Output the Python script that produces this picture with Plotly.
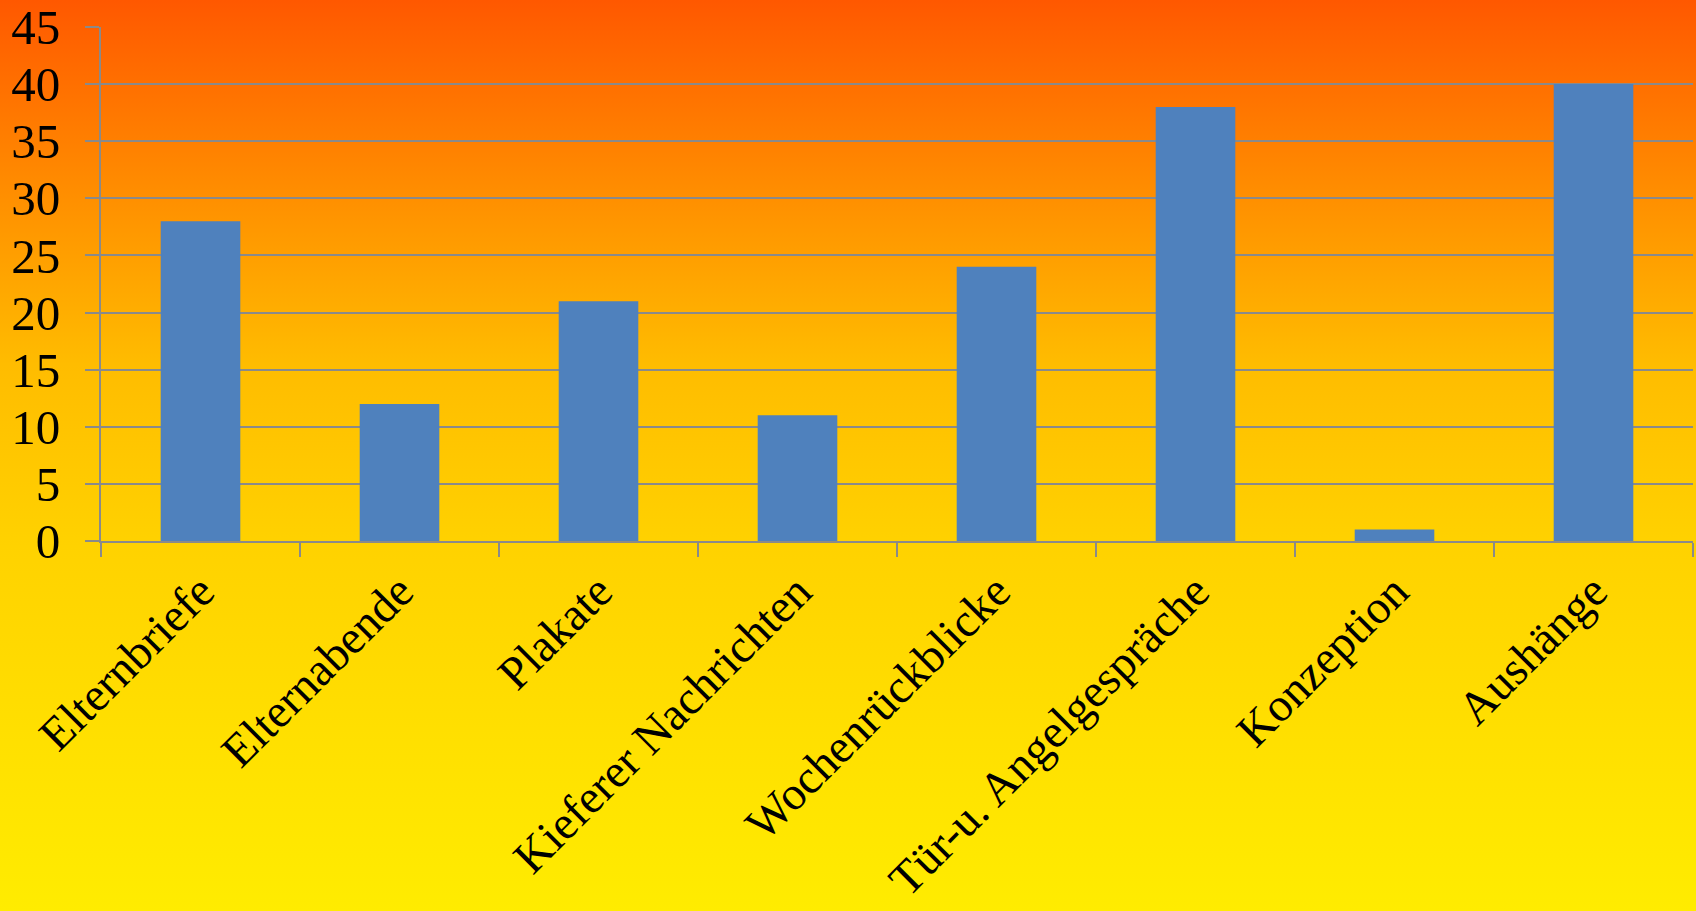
import base64
import plotly.graph_objects as go

categories = ["Elternbriefe", "Elternabende", "Plakate", "Kieferer Nachrichten",
              "Wochenrückblicke", "Tür-u. Angelgespräche", "Konzeption", "Aushänge"]
values = [28, 12, 21, 11, 24, 38, 1, 40]
y_ticks = [0, 5, 10, 15, 20, 25, 30, 35, 40, 45]

W, H = 1696, 911
ML, MR, MT, MB = 101, 3, 27, 370
PW, PH = W - ML - MR, H - MT - MB

svg = f'''<svg xmlns="http://www.w3.org/2000/svg" width="100" height="{H}" viewBox="0 0 100 {H}" preserveAspectRatio="none">
<defs><linearGradient id="g" x1="0" y1="0" x2="0" y2="1">
<stop offset="0" stop-color="#FF5800"/>
<stop offset="0.22" stop-color="#FF9000"/>
<stop offset="0.40" stop-color="#FFBC00"/>
<stop offset="0.60" stop-color="#FFD200"/>
<stop offset="1" stop-color="#FFEC00"/>
</linearGradient></defs>
<rect x="0" y="0" width="100" height="{H}" fill="url(#g)"/>
</svg>'''
src = "data:image/svg+xml;base64," + base64.b64encode(svg.encode()).decode()

fig = go.Figure(go.Bar(x=categories, y=values, marker=dict(color="#4F81BD", line=dict(width=0))))

grid = "#8A8A8A"
font_family = "Liberation Serif, Times New Roman, serif"
fig.update_layout(
    width=W, height=H,
    margin=dict(l=ML, r=MR, t=MT, b=MB, pad=0, autoexpand=False),
    paper_bgcolor="#FFEC00", plot_bgcolor="rgba(0,0,0,0)",
    bargap=0.6,
    showlegend=False,
    font=dict(family=font_family, size=47, color="black"),
    images=[dict(source=src, xref="paper", yref="paper",
                 x=-ML / PW, y=1 + MT / PH,
                 sizex=W / PW, sizey=H / PH,
                 xanchor="left", yanchor="top", sizing="stretch", layer="below")],
)
fig.update_xaxes(
    automargin=False,
    showline=True, linecolor=grid, linewidth=2,
    ticks="outside", tickson="boundaries", ticklen=14, tickcolor=grid, tickwidth=2,
    tickangle=-45, showgrid=False, ticklabelstandoff=2,
    tickfont=dict(family=font_family, size=47, color="black"),
)
fig.update_yaxes(
    automargin=False,
    range=[0, 45], tickvals=y_ticks, ticktext=[str(v) for v in y_ticks],
    showline=True, linecolor=grid, linewidth=2,
    ticks="outside", ticklen=14, tickcolor=grid, tickwidth=2,
    showgrid=True, gridcolor=grid, gridwidth=2, zeroline=False,
    ticklabelstandoff=15,
    tickfont=dict(family=font_family, size=49, color="black"),
)

fig.write_html("out.html", config={"displayModeBar": False},
               post_script="document.body.style.margin='0';")
